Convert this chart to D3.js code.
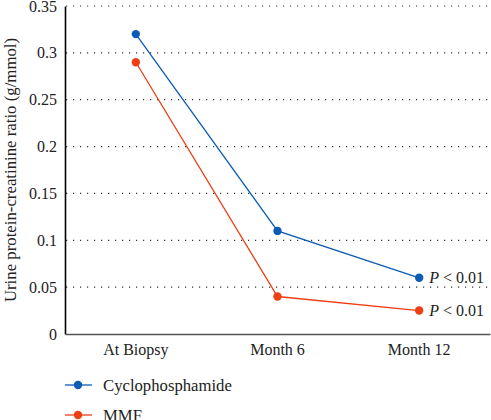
<!DOCTYPE html>
<html><head><meta charset="utf-8">
<script src="https://cdn.jsdelivr.net/npm/d3@7"></script>
<style>body{margin:0;background:#fff}svg{display:block}svg text{font-family:"Liberation Serif","DejaVu Serif",serif !important;fill:#222}</style>
</head><body><svg id="c" width="491" height="420"></svg>
<script>
const categories = ["At Biopsy", "Month 6", "Month 12"];
const cyclophosphamide = [0.32, 0.11, 0.06];
const mmf = [0.29, 0.04, 0.025];
const yTicks = [0, 0.05, 0.1, 0.15, 0.2, 0.25, 0.3, 0.35];
const seriesNames = ["Cyclophosphamide", "MMF"];
const pLabels = ["P < 0.01", "P < 0.01"];

const colors = ["#0b5cb5", "#ee3e14"];
const FS = "16px";
const svg = d3.select("#c");
const x = d3.scaleBand().domain(categories).range([65, 490]).padding(0);
const y = d3.scaleLinear().domain([0, 0.35]).range([334, 6]);

// gridlines
svg.append("g").selectAll("line").data(yTicks.filter(d => d > 0)).join("line")
  .attr("x1", 66).attr("x2", 490).attr("y1", d => y(d)).attr("y2", d => y(d))
  .attr("stroke", "#333").attr("stroke-width", 1.2).attr("stroke-dasharray", "1.2,5.8");

// y axis
const ya = svg.append("g").attr("transform", "translate(65,0)")
  .call(d3.axisLeft(y).tickValues(yTicks).tickSize(0).tickPadding(8).tickFormat(d => String(d)));
ya.attr("font-family", null).attr("font-size", null);
ya.select(".domain").attr("stroke", "#000").attr("stroke-width", 1.6);
ya.selectAll("text").style("font-size", FS).attr("fill", "#222");

// x axis
const xa = svg.append("g").attr("transform", "translate(0,334)")
  .call(d3.axisBottom(x).tickSize(0).tickPadding(10));
xa.attr("font-family", null).attr("font-size", null);
xa.select(".domain").attr("stroke", "#555").attr("stroke-width", 1.6);
xa.selectAll("text").style("font-size", FS).attr("fill", "#222");

// y label
svg.append("text").attr("transform", "translate(16,170) rotate(-90)")
  .attr("text-anchor", "middle").style("font-size", "16.8px").text("Urine protein-creatinine ratio (g/mmol)");

const series = [cyclophosphamide, mmf];
const cx = d => x(d) + x.bandwidth() / 2;
const line = d3.line().x((d, i) => cx(categories[i])).y(d => y(d));
series.forEach((s, k) => {
  svg.append("path").attr("d", line(s)).attr("fill", "none")
    .attr("stroke", colors[k]).attr("stroke-width", 1.3);
  svg.append("g").selectAll("circle").data(s).join("circle")
    .attr("cx", (d, i) => cx(categories[i])).attr("cy", d => y(d)).attr("r", 4.2)
    .attr("fill", colors[k]);
  const last = s[s.length - 1];
  const t = svg.append("text").attr("x", cx(categories[categories.length - 1]) + 10)
    .attr("y", y(last) + 5.5).style("font-size", FS);
  const parts = pLabels[k].split(" ");
  t.append("tspan").attr("font-style", "italic").text(parts[0]);
  t.append("tspan").text(" " + parts.slice(1).join(" "));
});

// legend
const lg = svg.append("g");
seriesNames.forEach((n, k) => {
  const ly = 385 + k * 30;
  lg.append("line").attr("x1", 65).attr("x2", 92).attr("y1", ly).attr("y2", ly)
    .attr("stroke", colors[k]).attr("stroke-width", 1.3);
  lg.append("circle").attr("cx", 78).attr("cy", ly).attr("r", 4.2).attr("fill", colors[k]);
  lg.append("text").attr("x", 103).attr("y", ly + 5.5).style("font-size", "16.7px").text(n);
});
</script></body></html>
